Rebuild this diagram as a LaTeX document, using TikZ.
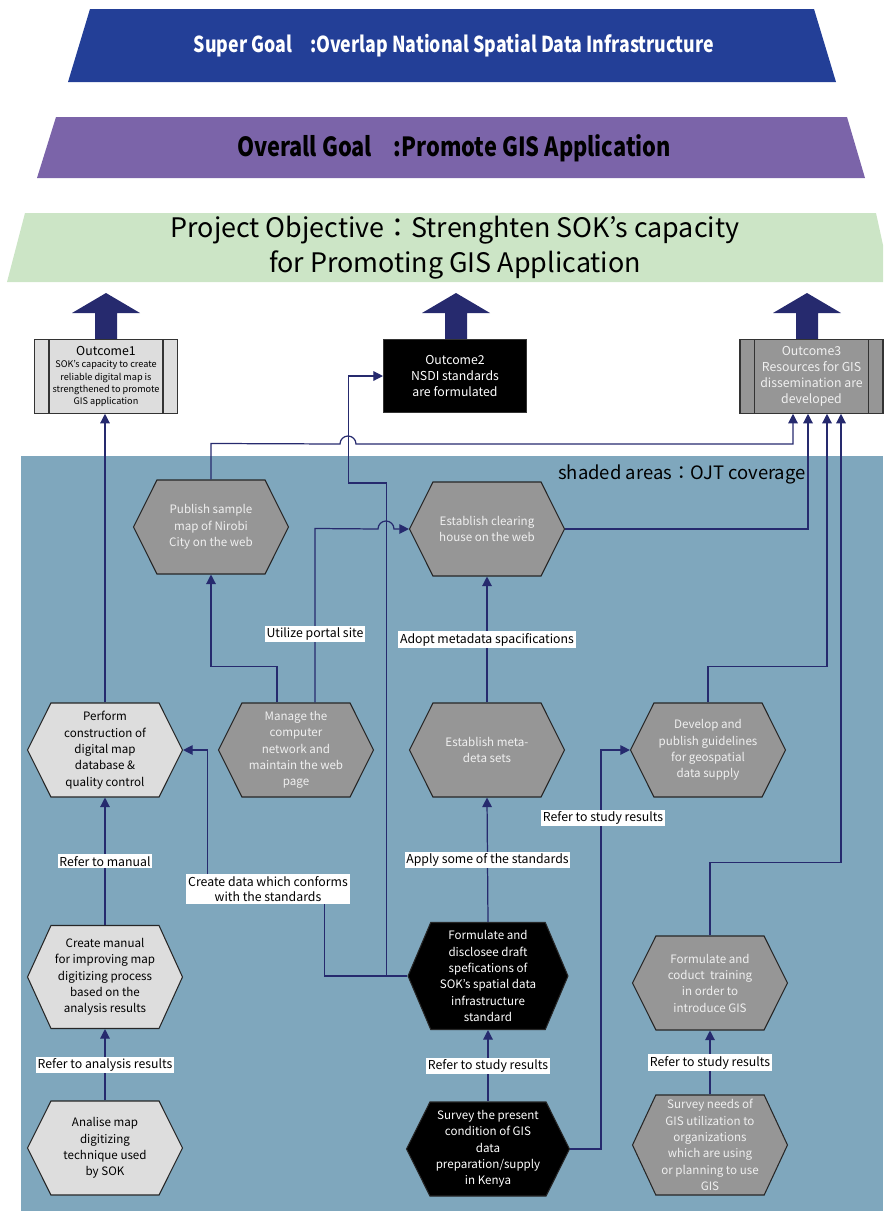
\documentclass[tikz,border=0pt]{standalone}
\usepackage{fontspec}
\setmainfont{Noto Sans CJK JP}
\usepackage{graphicx}
\usetikzlibrary{arrows.meta,shapes.symbols}

\definecolor{navy}{RGB}{38,42,110}
\definecolor{supergoal}{RGB}{35,63,151}
\definecolor{overallgoal}{RGB}{123,100,169}
\definecolor{objective}{RGB}{204,229,198}
\definecolor{ojtshade}{RGB}{127,167,189}
\definecolor{darkbox}{RGB}{150,150,150}
\definecolor{lightbox}{RGB}{221,221,221}
\definecolor{pale}{RGB}{240,240,240}

\tikzset{
	hexbox/.style={signal, signal to=east and west, signal pointer angle=127,
		draw=black!85, line width=0.6pt, minimum width=3.1cm, minimum height=1.88cm,
		inner sep=1pt, align=center, font=\fontsize{6.6}{9.3}\selectfont},
	lighthex/.style={hexbox, fill=lightbox, text=black},
	grayhex/.style={hexbox, fill=darkbox, text=pale},
	blackhex/.style={hexbox, fill=black, text=white},
	outbox/.style={draw=black!80, line width=0.6pt, minimum width=2.86cm, minimum height=1.47cm,
		inner sep=1pt, align=center},
	link/.style={draw=navy, line width=0.7pt},
	linkarrow/.style={link, -{Triangle[length=5.5pt,width=5.5pt]}},
	lbl/.style={fill=white, inner sep=1pt, align=center, text=black, font=\fontsize{7}{9}\selectfont},
}

\begin{document}
\begin{tikzpicture}[x=0.02cm,y=-0.02cm]
	\useasboundingbox (0,0) rectangle (883,1211);
	% goal banners
	\fill [supergoal] (90,9) -- (814,9) -- (836,82) -- (68,82) -- cycle;
	\node [text=white] (super) at (454,46) {\resizebox{296pt}{\height}{\fontsize{12.5}{14}\selectfont\bfseries Super Goal\quad :Overlap National Spatial Data Infrastructure}};
	\fill [overallgoal] (56,117) -- (847,117) -- (865,178) -- (37,178) -- cycle;
	\node [text=black] (overall) at (454,148) {\resizebox{247pt}{\height}{\fontsize{15}{18}\selectfont\bfseries Overall Goal\quad :Promote GIS Application}};
	\fill [objective] (25,213) -- (876,213) -- (883,245) -- (883,282) -- (7,282) -- cycle;
	\node [align=center, font=\fontsize{15.3}{20}\selectfont] (projobj) at (455,248) {Project Objective：Strenghten SOK’s capacity\\for Promoting GIS Application};
	\foreach \x in {106,456,807}
		\fill [navy] (\x-11,340) -- (\x-11,313) -- (\x-34,313) -- (\x,293) -- (\x+34,313) -- (\x+11,313) -- (\x+11,340) -- cycle;

	% outcomes
	\node [outbox, fill=lightbox, font=\fontsize{5.2}{6.9}\selectfont] (out1) at (106,376.5) {{\fontsize{7}{9}\selectfont Outcome1}\\SOK’s capacity to create\\reliable digital map is\\strengthened to promote\\GIS application};
	\node [outbox, fill=black, text=white, font=\fontsize{7}{9.2}\selectfont] (out2) at (455,376) {Outcome2\\NSDI standards\\are formulated};
	\node [outbox, fill=darkbox, text=pale, font=\fontsize{7}{9.2}\selectfont] (out3) at (811.5,376.5) {Outcome3\\Resources for GIS\\dissemination are\\developed};
	\foreach \o in {out1,out3}
		\draw [black!80, line width=0.6pt] ([xshift=0.3cm]\o.north west) -- ([xshift=0.3cm]\o.south west)
			([xshift=-0.3cm]\o.north east) -- ([xshift=-0.3cm]\o.south east);

	% OJT area
	\fill [ojtshade] (21,456) rectangle (883,1211);
	\node [font=\fontsize{10.5}{13}\selectfont] (ojt) at (682,474) {shaded areas：OJT coverage};

	% activities
	\node [grayhex] (pubmap) at (211,527) {Publish sample\\map of Nirobi\\City on the web};
	\node [grayhex] (clearing) at (487,529) {Establish clearing\\house on the web};
	\node [lighthex] (dbqc) at (105,750) {Perform\\construction of\\digital map\\database \&\\quality control};
	\node [grayhex] (network) at (296,750) {Manage the\\computer\\network and\\maintain the web\\page};
	\node [grayhex] (metadata) at (487,750) {Establish meta-\\deta sets};
	\node [grayhex] (guideline) at (708,750) {Develop and\\publish guidelines\\for geospatial\\data supply};
	\node [lighthex, minimum height=2.06cm, signal pointer angle=131] (manual) at (105,977) {Create manual\\for improving map\\digitizing process\\based on the\\analysis results};
	\node [lighthex] (analyse) at (105,1148) {Analise map\\digitizing\\technique used\\by SOK};
	\node [blackhex, minimum height=2.14cm, minimum width=3.2cm, signal pointer angle=134] (draftstd) at (488,976) {Formulate and\\disclosee draft\\spefications of\\SOK’s spatial data\\infrastructure\\standard};
	\node [blackhex, minimum width=3.26cm] (surveygis) at (488,1149) {Survey the present\\condition of GIS\\data\\preparation/supply\\in Kenya};
	\node [grayhex] (training) at (710,983) {Formulate and\\coduct\ \ training\\in order to\\introduce GIS};
	\node [grayhex, minimum height=2cm, signal pointer angle=130] (surveyneeds) at (710,1145) {Survey needs of\\GIS utilization to\\organizations\\which are using\\or planning to use\\GIS};

	% connectors
	\draw [linkarrow] (analyse.north) -- node [lbl] {Refer to analysis results} (manual.south);
	\draw [linkarrow] (manual.north) -- node [lbl] {Refer to manual} (dbqc.south);
	\draw [linkarrow] (dbqc.north) -- (dbqc.north |- out1.south);
	\draw [linkarrow] (draftstd.west) -- ++(-83,0) -- ++(0,-86) -- ++(-117,0) |- (dbqc.east);
	\node [lbl] (conform) at (268,889) {Create data which conforms\\with the standards};
	\draw [linkarrow] (draftstd.west) -- ++(-21,0) -- ++(0,-493) -- ++(-38,0) |- (out2.west);
	\draw [linkarrow] (pubmap.north) -- ++(0,-36) -- (340,444) arc [start angle=180, end angle=0, radius=0.16cm] -| ([xshift=-0.37cm]out3.south);
	\draw [linkarrow] ([xshift=-0.38cm]network.north) -- ++(0,-36) -| (pubmap.south);
	\draw [linkarrow] ([xshift=0.38cm]network.north) -- ++(0,-174) -- (378,529) arc [start angle=180, end angle=0, radius=0.16cm] -- (clearing.west);
	\node [lbl] (portal) at (315,634) {Utilize portal site};
	\draw [linkarrow] (clearing.east) -| ([xshift=-0.07cm]out3.south);
	\draw [linkarrow] (metadata.north) -- node [lbl] {Adopt metadata spacifications} (clearing.south);
	\draw [linkarrow] (draftstd.north) -- node [lbl] {Apply some of the standards} (metadata.south);
	\draw [linkarrow] (surveygis.north) -- node [lbl] {Refer to study results} (draftstd.south);
	\draw [linkarrow] (surveygis.east) -- ++(31,0) |- (guideline.west);
	\node [lbl] (studyres) at (603,818) {Refer to study results};
	\draw [linkarrow] (guideline.north) -- ++(0,-36) -| ([xshift=0.31cm]out3.south);
	\draw [linkarrow] (training.north) -- ++(0,-73) -| ([xshift=0.59cm]out3.south);
	\draw [linkarrow] (surveyneeds.north) -- node [lbl] {Refer to study results} (training.south);
\end{tikzpicture}
\end{document}
